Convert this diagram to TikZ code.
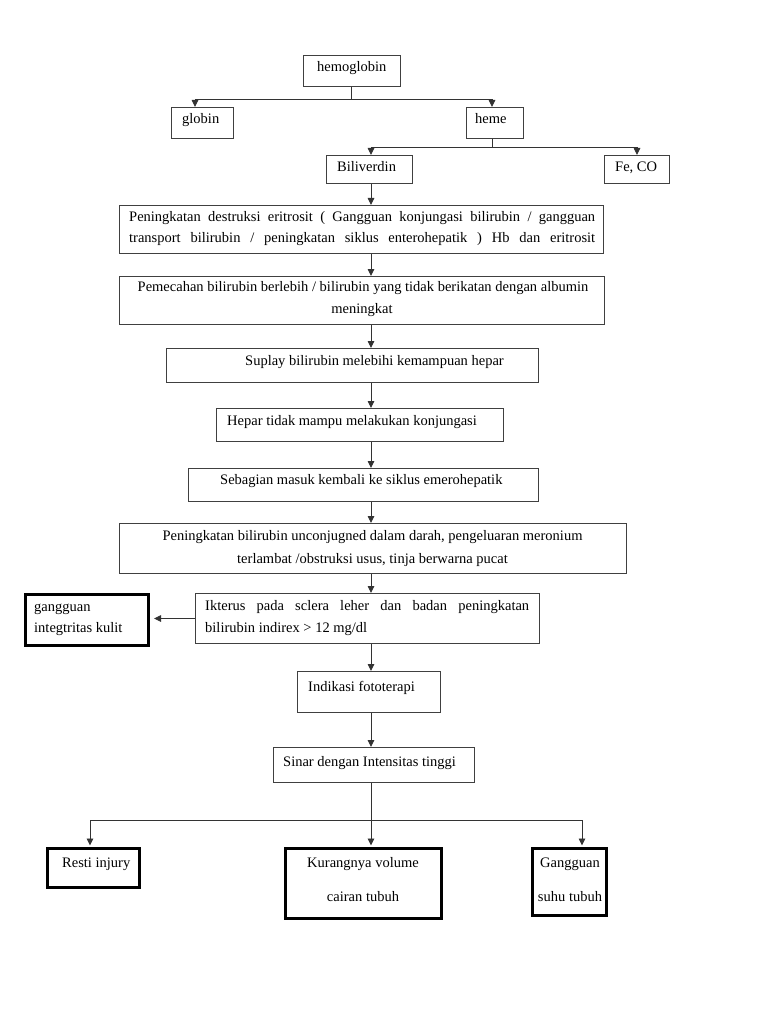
\documentclass[tikz,border=0pt]{standalone}
\usepackage{fontspec}
\setmainfont{Liberation Serif}
\usetikzlibrary{arrows.meta,calc}
\newcommand\fs{\fontsize{14.5}{20}\selectfont}
\newcommand\mkbox[6]{\node[#1, minimum width={#5-#3}, minimum height={#6-#4}] (#2) at (#3,#4) {};}
\tikzset{
 ln/.style={draw=black!80, line width=0.9pt},
 arr/.style={ln, -{Triangle[length=7pt,width=6.5pt]}},
 box/.style={draw=black!75, line width=1pt, inner sep=0, anchor=north west},
 tbox/.style={draw=black, line width=3pt, inner sep=0, anchor=north west},
 txt/.style={inner sep=0, anchor=base west, font=\fs},
 ctxt/.style={inner sep=0, anchor=base, font=\fs},
}
\begin{document}
\begin{tikzpicture}[x=1pt,y=-1pt]
\fill[white] (0,0) rectangle (768,1024);
\useasboundingbox (0,0) rectangle (768,1024);
% boxes
\mkbox{box}{hemo}{303}{55}{400}{86}
\mkbox{box}{globin}{171}{107}{233}{138}
\mkbox{box}{heme}{466}{107}{523}{138}
\mkbox{box}{bili}{326}{155}{412}{183}
\mkbox{box}{feco}{604}{155}{669}{183}
\mkbox{box}{b1}{119}{205}{603}{253}
\mkbox{box}{b2}{119}{276}{604}{324}
\mkbox{box}{b3}{166}{348}{538}{382}
\mkbox{box}{b4}{216}{408}{503}{441}
\mkbox{box}{b5}{188}{468}{538}{501}
\mkbox{box}{b6}{119}{523}{626}{573}
\mkbox{box}{ikt}{195}{593}{539}{643}
\mkbox{tbox}{gang}{24}{593}{147}{644}
\mkbox{box}{indi}{297}{671}{440}{712}
\mkbox{box}{sinar}{273}{747}{474}{782}
\mkbox{tbox}{resti}{46}{847}{138}{886}
\mkbox{tbox}{kur}{284}{847}{440}{917}
\mkbox{tbox}{suhu}{531}{847}{605}{914}
% texts
\node[txt] (themo) at (317,71.5) {hemoglobin};
\node[txt] (tglobin) at (182,124) {globin};
\node[txt] (theme) at (475,124) {heme};
\node[txt] (tbili) at (337,171.5) {Biliverdin};
\node[txt] (tfeco) at (615,171.5) {Fe, CO};
\node[txt] (t1a) at (129,222) {\makebox[466pt][s]{Peningkatan destruksi eritrosit ( Gangguan konjungasi bilirubin / gangguan}};
\node[txt] (t1b) at (129,242.5) {\makebox[466pt][s]{transport bilirubin / peningkatan siklus enterohepatik ) Hb dan eritrosit}};
\node[ctxt] (t2a) at (363,291.5) {Pemecahan bilirubin berlebih / bilirubin yang tidak berikatan dengan albumin};
\node[ctxt] (t2b) at (362,313) {meningkat};
\node[txt] (t3) at (245,365) {Suplay bilirubin melebihi kemampuan hepar};
\node[txt] (t4) at (227,425) {Hepar tidak mampu melakukan konjungasi};
\node[txt] (t5) at (220,484.5) {Sebagian masuk kembali ke siklus emerohepatik};
\node[ctxt] (t6a) at (372.5,540) {Peningkatan bilirubin unconjugned dalam darah, pengeluaran meronium};
\node[ctxt] (t6b) at (372.5,563) {terlambat /obstruksi usus, tinja berwarna pucat};
\node[txt] (tikta) at (205,610.5) {\makebox[324pt][s]{Ikterus pada sclera leher dan badan peningkatan}};
\node[txt] (tiktb) at (205,632.5) {bilirubin indirex > 12 mg/dl};
\node[txt] (tganga) at (34,611) {gangguan};
\node[txt] (tgangb) at (34,632.5) {integtritas kulit};
\node[txt] (tindi) at (308,691) {Indikasi fototerapi};
\node[txt] (tsinar) at (283,766) {Sinar dengan Intensitas tinggi};
\node[txt] (tresti) at (62,867.5) {Resti injury};
\node[ctxt] (tkura) at (363,867.5) {Kurangnya volume};
\node[ctxt] (tkurb) at (363,901) {cairan tubuh};
\node[ctxt] (tsuhua) at (570,867.5) {Gangguan};
\node[ctxt] (tsuhub) at (570,901) {suhu tubuh};
% connectors
\coordinate (spine) at (371,0);
\coordinate (j1) at (351,99);
\draw[ln] (j1 |- hemo.south) -- (j1);
\draw[arr] (j1) -| ($(globin.north west)+(24,0)$);
\draw[arr] (j1) -| ($(heme.north west)+(26,0)$);
\coordinate (j2) at (492,147);
\draw[ln] (j2 |- heme.south) -- (j2);
\draw[arr] (j2) -| ($(bili.north west)+(45,0)$);
\draw[arr] (j2) -| ($(feco.north west)+(33,0)$);
\draw[arr] (bili.south -| spine) -- (b1.north -| spine);
\draw[arr] (b1.south -| spine) -- (b2.north -| spine);
\draw[arr] (b2.south -| spine) -- (b3.north -| spine);
\draw[arr] (b3.south -| spine) -- (b4.north -| spine);
\draw[arr] (b4.south -| spine) -- (b5.north -| spine);
\draw[arr] (b5.south -| spine) -- (b6.north -| spine);
\draw[arr] (b6.south -| spine) -- (ikt.north -| spine);
\draw[arr, shorten >=4pt] (ikt.west) -- (ikt.west -| gang.east);
\draw[arr] (ikt.south -| spine) -- (indi.north -| spine);
\draw[arr] (indi.south -| spine) -- (sinar.north -| spine);
\coordinate (j3) at (371,820);
\draw[ln] (sinar.south -| spine) -- (j3);
\draw[arr] (j3) -| ($(resti.north west)+(44,-1.5)$);
\draw[arr] (j3) -- ($(j3 |- kur.north)+(0,-1.5)$);
\draw[arr] (j3) -| ($(suhu.north west)+(51,-1.5)$);
\end{tikzpicture}
\end{document}
